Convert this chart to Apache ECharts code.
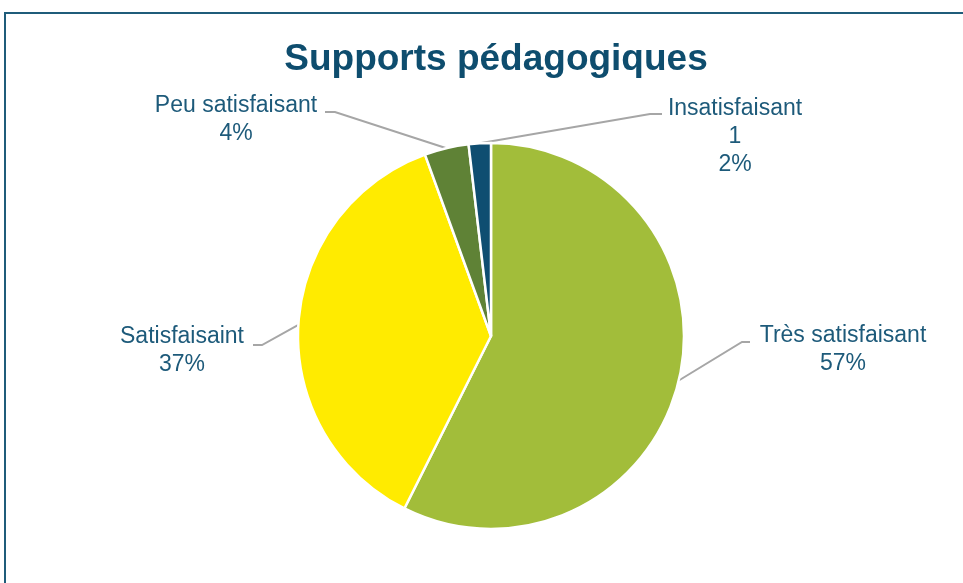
<!DOCTYPE html>
<html>
<head>
<meta charset="utf-8">
<script src="https://cdn.jsdelivr.net/npm/echarts@6/dist/echarts.min.js"></script>
<style>html,body{margin:0;padding:0;background:#fff;}#c{width:963px;height:583px;}</style>
</head>
<body>
<div id="c"></div>
<script>
const categories = ['Très satisfaisant', 'Satisfaisaint', 'Peu satisfaisant', 'Insatisfaisant'];
const counts = [31, 20, 2, 1];
const colors = ['#A2BD3A', '#FFEB00', '#5F8236', '#0F4E71'];
const showCount = [false, false, false, true];

// label placement (style only)
const labelPos = [
  {x: 843, y: 350, elbow: [742, 342]},
  {x: 182, y: 351, elbow: [262, 345]},
  {x: 236, y: 120, elbow: [335, 112]},
  {x: 735, y: 137, elbow: [650, 114]}
];
const lineEnds = [[750, 342], [253, 345], [325, 112], [662, 114]];

const chart = echarts.init(document.getElementById('c'));
chart.setOption({
  animation: false,
  title: {
    text: 'Supports pédagogiques',
    left: 491, top: 36, textAlign: 'center',
    textStyle: {fontFamily: 'Liberation Sans, Arial, sans-serif', fontSize: 37, fontWeight: 'bold', color: '#0E4D6E'}
  },
  graphic: [{
    type: 'rect', shape: {x: 5, y: 13, width: 980, height: 620},
    style: {fill: 'none', stroke: '#1F5C7A', lineWidth: 2}
  }],
  series: [{
    type: 'pie',
    center: [491, 336],
    radius: 193,
    startAngle: 90,
    clockwise: true,
    percentPrecision: 0,
    data: categories.map((n, i) => ({name: n, value: counts[i], itemStyle: {color: colors[i]},
      label: {formatter: showCount[i] ? '{b}\n{c}\n{d}%' : '{b}\n{d}%'}})),
    itemStyle: {borderColor: '#fff', borderWidth: 2.5},
    label: {
      show: true, color: '#1D5A7A', fontSize: 23, lineHeight: 28,
      fontFamily: 'Liberation Sans, Arial, sans-serif', align: 'center'
    },
    labelLine: {show: true, lineStyle: {color: '#A6A6A6', width: 2}},
    labelLayout: function (p) {
      const i = p.dataIndex;
      const lp = labelPos[i];
      const pts = p.labelLinePoints;
      const edge = pts && pts[0] ? pts[0] : [491, 336];
      return {
        x: lp.x, y: lp.y, align: 'center', verticalAlign: 'middle',
        labelLinePoints: [edge, lp.elbow, lineEnds[i]]
      };
    }
  }]
});
</script>
</body>
</html>
